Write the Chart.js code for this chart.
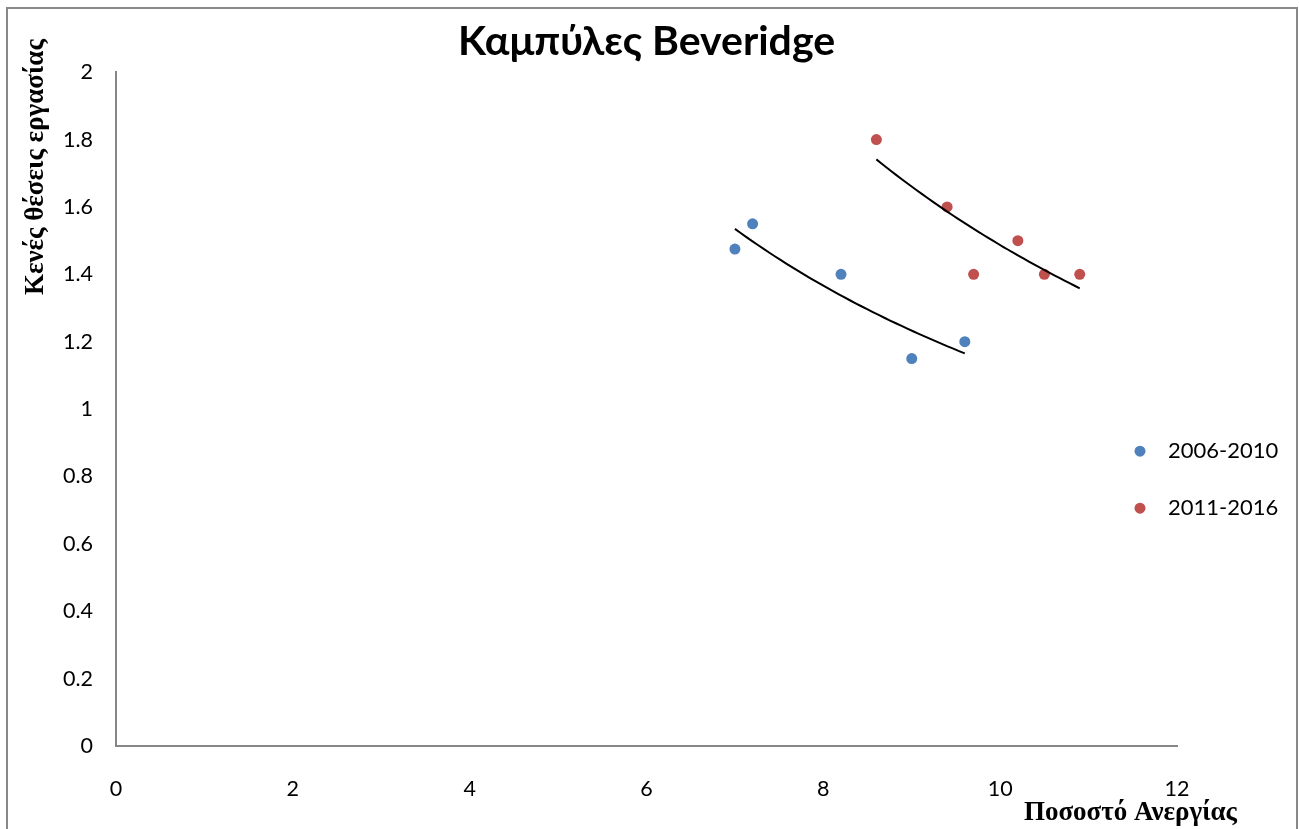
<!DOCTYPE html>
<html>
<head>
<meta charset="utf-8">
<script src="https://cdn.jsdelivr.net/npm/chart.js@4.4.1/dist/chart.umd.min.js"></script>
<style>
  body { margin: 0; background: #fff; }
  #wrap { position: relative; width: 1299px; height: 829px; }
  #frame { position: absolute; left: 6px; top: 7px; width: 1288px; height: 830px;
           border: 2px solid #898989; border-bottom: none; pointer-events: none; }
</style>
</head>
<body>
<div id="wrap">
  <canvas id="myChart" width="1299" height="829"></canvas>
  <div id="frame"></div>
</div>
<script>
//Values
const seriesLabels = ['2006-2010', '2011-2016'];
const seriesColors = ['#4F81BD', '#C0504D'];
const blueX = [7.0, 7.2, 8.2, 9.0, 9.6];
const blueY = [1.475, 1.55, 1.4, 1.15, 1.2];
const redX = [8.6, 9.4, 9.7, 10.2, 10.5, 10.9];
const redY = [1.8, 1.6, 1.4, 1.5, 1.4, 1.4];
const chartTitle = 'Καμπύλες Beveridge';
const xTitle = 'Ποσοστό Ανεργίας';
const yTitle = 'Κενές θέσεις εργασίας';

const tickFont = { family: 'Lato, "Open Sans", sans-serif', size: 21.5 };
const axisTitleFont = 'bold 27px "Liberation Serif", "DejaVu Serif", serif';

//Turn two arrays into {x, y} points
function toPoints(xs, ys) {
    return xs.map((x, i) => ({ x: x, y: ys[i] }));
}

//Power trendline (y = a * x^b) fitted to the points, like the original
function powerTrend(xs, ys) {
    const lx = xs.map(Math.log);
    const ly = ys.map(Math.log);
    const n = xs.length;
    const mx = lx.reduce((s, v) => s + v, 0) / n;
    const my = ly.reduce((s, v) => s + v, 0) / n;
    let sxy = 0, sxx = 0;
    for (let i = 0; i < n; i++) {
        sxy += (lx[i] - mx) * (ly[i] - my);
        sxx += (lx[i] - mx) * (lx[i] - mx);
    }
    const b = sxy / sxx;
    const a = Math.exp(my - b * mx);
    const lo = Math.min(...xs), hi = Math.max(...xs);
    const pts = [];
    for (let k = 0; k <= 40; k++) {
        const x = lo + (hi - lo) * k / 40;
        pts.push({ x: x, y: a * Math.pow(x, b) });
    }
    return pts;
}

function trendDataset(xs, ys) {
    return {
        data: powerTrend(xs, ys),
        showLine: true,
        borderColor: '#000',
        borderWidth: 2,
        pointRadius: 0,
        tension: 0,
        order: 0,
        isTrend: true
    };
}

function pointDataset(label, color, xs, ys) {
    return {
        label: label,
        data: toPoints(xs, ys),
        backgroundColor: color,
        borderWidth: 0,
        pointRadius: 5.5,
        pointHoverRadius: 5.5,
        order: 1
    };
}

//Axis titles and the legend, placed like in the original
const extras = {
    id: 'extras',
    afterDraw(chart) {
        const { ctx, chartArea } = chart;
        ctx.save();
        ctx.fillStyle = '#000';
        ctx.font = axisTitleFont;
        //x title
        ctx.textAlign = 'right';
        ctx.textBaseline = 'alphabetic';
        ctx.fillText(xTitle, chartArea.right + 60, chartArea.bottom + 74);
        //y title
        ctx.save();
        ctx.translate(36, chartArea.top - 33);
        ctx.rotate(-Math.PI / 2);
        ctx.textAlign = 'right';
        ctx.textBaseline = 'middle';
        ctx.fillText(yTitle, 0, 0);
        ctx.restore();
        //legend
        const sets = chart.data.datasets.filter((d) => !d.isTrend);
        ctx.font = '22px ' + tickFont.family;
        ctx.textAlign = 'left';
        ctx.textBaseline = 'middle';
        sets.forEach((d, i) => {
            const y = chartArea.top + 379 + i * 57;
            const x = chartArea.right - 37;
            ctx.beginPath();
            ctx.fillStyle = d.backgroundColor;
            ctx.arc(x, y, 5.5, 0, Math.PI * 2);
            ctx.fill();
            ctx.fillStyle = '#000';
            ctx.fillText(d.label, x + 28, y);
        });
        ctx.restore();
    }
};

const ctx = document.getElementById('myChart').getContext('2d');
const myChart = new Chart(ctx, {
    type: 'scatter',
    data: {
        datasets: [
            pointDataset(seriesLabels[0], seriesColors[0], blueX, blueY),
            pointDataset(seriesLabels[1], seriesColors[1], redX, redY),
            trendDataset(blueX, blueY),
            trendDataset(redX, redY)
        ]
    },
    options: {
        responsive: false,
        animation: false,
        devicePixelRatio: 1,
        layout: {
            padding: { left: 56, right: 122, top: 0, bottom: 0 }
        },
        plugins: {
            legend: { display: false },
            tooltip: { enabled: false },
            title: {
                display: true,
                text: chartTitle,
                fullSize: false,
                color: '#000',
                font: { family: 'Lato, "Open Sans", sans-serif', size: 41, weight: 'bold', lineHeight: 1.2 },
                padding: { top: 17, bottom: 6 }
            }
        },
        scales: {
            x: {
                min: 0,
                max: 12,
                ticks: { stepSize: 2, color: '#000', font: tickFont, padding: 30 },
                grid: { display: false, drawTicks: false },
                border: { display: true, color: '#878787', width: 2 },
                afterFit: (s) => { s.height = 83; }
            },
            y: {
                min: 0,
                max: 2,
                ticks: {
                    stepSize: 0.2,
                    color: '#000',
                    font: tickFont,
                    padding: 23,
                    //Excel shows 2 and 1, not 2.0 and 1.0
                    callback: (value) => String(Number(value.toFixed(1)))
                },
                grid: { display: false, drawTicks: false },
                border: { display: true, color: '#878787', width: 2 },
                afterFit: (s) => { s.width = 60; }
            }
        }
    },
    plugins: [extras]
});
</script>
</body>
</html>
